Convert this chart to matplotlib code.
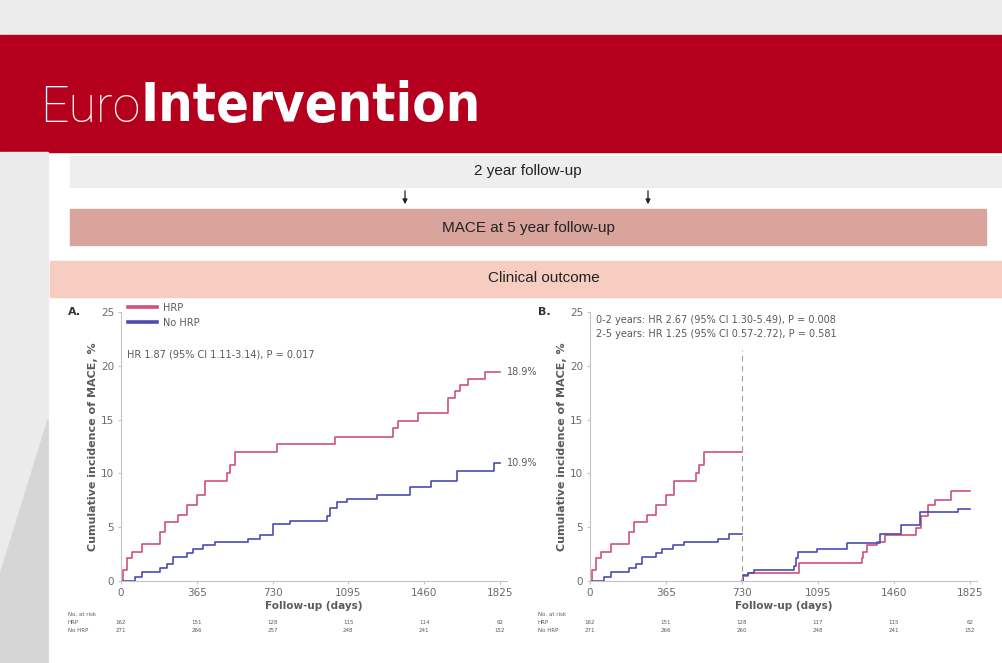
import matplotlib
matplotlib.use('Agg')
import matplotlib.pyplot as plt
from matplotlib.patches import Rectangle, Polygon
from matplotlib import font_manager

# --- data ---
ticks_days = [0, 365, 730, 1095, 1460, 1825]

# panel A: whole 5 years
a_hrp_days = [0, 11, 27, 51, 100, 188, 212, 276, 316, 364, 404, 509, 525, 549, 750, 1030, 1311, 1335, 1432, 1576, 1608, 1632, 1672, 1753, 1825]
a_hrp_inc = [0, 1.0, 2.1, 2.7, 3.4, 4.6, 5.5, 6.1, 7.1, 8.0, 9.3, 10.0, 10.8, 12.0, 12.7, 13.4, 14.2, 14.9, 15.6, 17.0, 17.7, 18.2, 18.8, 19.4, 19.4]
a_nohrp_days = [0, 67, 100, 188, 220, 252, 316, 348, 397, 452, 613, 669, 733, 813, 990, 1006, 1038, 1086, 1231, 1391, 1495, 1616, 1795, 1825]
a_nohrp_inc = [0, 0.4, 0.8, 1.2, 1.6, 2.2, 2.6, 3.0, 3.3, 3.6, 3.9, 4.3, 5.3, 5.6, 6.0, 6.8, 7.3, 7.6, 8.0, 8.7, 9.3, 10.2, 11.0, 11.0]

# panel B: landmark at 2 years
b1_hrp_days = [0, 11, 27, 51, 100, 188, 212, 276, 316, 364, 404, 509, 525, 549, 730]
b1_hrp_inc = [0, 1.0, 2.1, 2.7, 3.4, 4.6, 5.5, 6.1, 7.1, 8.0, 9.3, 10.0, 10.8, 12.0, 12.0]
b1_nohrp_days = [0, 67, 100, 188, 220, 252, 316, 348, 397, 452, 613, 669, 730]
b1_nohrp_inc = [0, 0.4, 0.8, 1.2, 1.6, 2.2, 2.6, 3.0, 3.3, 3.6, 3.9, 4.4, 4.4]
b2_hrp_days = [730, 735, 760, 1003, 1305, 1312, 1330, 1376, 1417, 1567, 1590, 1624, 1655, 1734, 1825]
b2_hrp_inc = [0, 0.5, 0.7, 1.7, 2.1, 2.7, 3.3, 3.6, 4.3, 4.9, 6.0, 7.1, 7.5, 8.4, 8.4]
b2_nohrp_days = [730, 735, 760, 790, 980, 990, 1000, 1090, 1234, 1393, 1496, 1585, 1768, 1825]
b2_nohrp_inc = [0, 0.6, 0.7, 1.0, 1.4, 2.1, 2.7, 3.0, 3.5, 4.4, 5.2, 6.4, 6.7, 6.7]

a_risk_hrp = ['162', '151', '128', '115', '114', '62']
a_risk_nohrp = ['271', '266', '257', '248', '241', '152']
b_risk_hrp = ['162', '151', '128', '117', '115', '62']
b_risk_nohrp = ['271', '266', '260', '248', '241', '152']

HRP_C = '#d0527a'
NOHRP_C = '#4b4bb2'
GREY_TXT = '#5a5a5a'
W, H = 1002, 663

# pick a condensed bold face for the banner if one is installed
cond_font = None
for f in font_manager.fontManager.ttflist:
    if f.stretch in ('condensed', 'semi-condensed', 'extra-condensed', 'ultra-condensed') or 'Condensed' in f.name or 'Narrow' in f.name:
        if f.weight in ('bold', 700, 'heavy', 800, 900, 'black') or f.weight == 700:
            cond_font = f.fname
            break
title_family = ['Roboto', 'Liberation Sans']

fig = plt.figure(figsize=(W / 100, H / 100), dpi=100)
fig.patch.set_facecolor('white')

# background layer in pixel coordinates
bg = fig.add_axes([0, 0, 1, 1])
bg.set_xlim(0, W)
bg.set_ylim(H, 0)
bg.axis('off')

bg.add_patch(Rectangle((0, 0), W, 35, color='#ececec'))
bg.add_patch(Rectangle((0, 35), W, 117, color='#b4001d'))
bg.add_patch(Rectangle((0, 152), 48, H - 152, color='#ebebeb'))
bg.add_patch(Polygon([(0, 663), (0, 575), (48, 420), (48, 663)], color='#d6d6d6'))

euro = bg.text(40, 122, 'Euro', color='white', fontsize=50, family=title_family,
               weight='light', va='baseline', ha='left')
if cond_font:
    inter = bg.annotate('Intervention', xy=(1, 0), xycoords=euro, color='white', fontsize=50,
                        fontproperties=font_manager.FontProperties(fname=cond_font, size=50),
                        va='bottom', ha='left')
else:
    inter = bg.annotate('Intervention', xy=(1, 0), xycoords=euro, color='white', fontsize=50,
                        family=title_family, weight='bold', va='bottom', ha='left')
# fit the banner words to their width on the slide
fig.canvas.draw()
r = fig.canvas.get_renderer()
ew = euro.get_window_extent(r).width
euro.set_fontsize(50 * 100 / ew)
fig.canvas.draw()
iw = inter.get_window_extent(r).width
inter.set_fontsize(50 * 340 / iw)

bg.add_patch(Rectangle((70, 156), 932, 31, color='#eeeeee'))
bg.text(528, 171, '2 year follow-up', fontsize=11, family='Liberation Sans', color='#222', ha='center', va='center')
for ax_x in (405, 648):
    bg.annotate('', xy=(ax_x, 207), xytext=(ax_x, 188),
                arrowprops=dict(arrowstyle='-|>', color='#222', lw=0.9, mutation_scale=7))
bg.add_patch(Rectangle((70, 209), 916, 36, color='#d9a49c'))
bg.text(528, 228, 'MACE at 5 year follow-up', fontsize=11, family='Liberation Sans', color='#222', ha='center', va='center')
bg.add_patch(Rectangle((50, 261), 952, 36, color='#f7ccc1'))
bg.text(544, 278, 'Clinical outcome', fontsize=11, family='Liberation Sans', color='#222', ha='center', va='center')


def px_axes(left, right, top, bottom):
    return fig.add_axes([left / W, 1 - bottom / H, (right - left) / W, (bottom - top) / H])


def style(ax):
    ax.set_xlim(0, 1860)
    ax.set_ylim(0, 25)
    ax.set_xticks(ticks_days)
    ax.set_yticks([0, 5, 10, 15, 20, 25])
    for s in ('top', 'right'):
        ax.spines[s].set_visible(False)
    for s in ('left', 'bottom'):
        ax.spines[s].set_color('#c4c4c4')
        ax.spines[s].set_linewidth(0.8)
    ax.tick_params(length=2, color='#c4c4c4', labelsize=7.5, labelcolor='#6a6a6a', pad=3)
    ax.set_facecolor('none')
    ax.set_xlabel('Follow-up (days)', fontsize=7.5, weight='bold', color=GREY_TXT, labelpad=2)
    ax.set_ylabel('Cumulative incidence of MACE, %', fontsize=8, weight='bold', color=GREY_TXT, labelpad=2)


axA = px_axes(121, 121 + 1860 * 379 / 1825, 312, 581)
style(axA)
axA.step(a_hrp_days, a_hrp_inc, where='post', color=HRP_C, lw=1.2, label='HRP')
axA.step(a_nohrp_days, a_nohrp_inc, where='post', color=NOHRP_C, lw=1.2, label='No HRP')
leg = axA.legend(loc='upper left', bbox_to_anchor=(0.0, 1.06), frameon=False, fontsize=7,
                 handlelength=3, labelcolor=GREY_TXT, borderaxespad=0.3, handletextpad=0.6)
for ln in leg.get_lines():
    ln.set_linewidth(2.6)
axA.text(30, 20.8, 'HR 1.87 (95% CI 1.11-3.14), P = 0.017', fontsize=7, color=GREY_TXT)
axA.text(1860, a_hrp_inc[-1], '18.9%', fontsize=7, color=GREY_TXT, va='center', clip_on=False)
axA.text(1860, a_nohrp_inc[-1], '10.9%', fontsize=7, color=GREY_TXT, va='center', clip_on=False)

axB = px_axes(590, 590 + 1860 * 380 / 1825, 312, 581)
style(axB)
axB.step(b1_hrp_days, b1_hrp_inc, where='post', color=HRP_C, lw=1.2)
axB.step(b1_nohrp_days, b1_nohrp_inc, where='post', color=NOHRP_C, lw=1.2)
axB.step(b2_hrp_days, b2_hrp_inc, where='post', color=HRP_C, lw=1.2)
axB.step(b2_nohrp_days, b2_nohrp_inc, where='post', color=NOHRP_C, lw=1.2)
axB.plot([730, 730], [0, 21.5], color='#a0a0a0', lw=0.8, ls=(0, (5, 4)))
axB.text(30, 24.0, '0-2 years: HR 2.67 (95% CI 1.30-5.49), P = 0.008', fontsize=7, color=GREY_TXT)
axB.text(30, 22.7, '2-5 years: HR 1.25 (95% CI 0.57-2.72), P = 0.581', fontsize=7, color=GREY_TXT)

# panel letters and numbers at risk
for lx, letter, ax, hrp_row, nohrp_row in ((68, 'A.', axA, a_risk_hrp, a_risk_nohrp),
                                           (538, 'B.', axB, b_risk_hrp, b_risk_nohrp)):
    bg.text(lx, 312, letter, fontsize=8, weight='bold', color='#333', va='center')
    bg.text(lx, 614, 'No. at risk', fontsize=4, color=GREY_TXT, va='center')
    bg.text(lx, 622, 'HRP', fontsize=4, color=GREY_TXT, va='center')
    bg.text(lx, 631, 'No HRP', fontsize=4, color=GREY_TXT, va='center')
    for d, v1, v2 in zip(ticks_days, hrp_row, nohrp_row):
        xpx = ax.transData.transform((d, 0))[0]
        bg.text(xpx, 622, v1, fontsize=4, color=GREY_TXT, ha='center', va='center')
        bg.text(xpx, 631, v2, fontsize=4, color=GREY_TXT, ha='center', va='center')

fig.savefig('out.png', dpi=100)
